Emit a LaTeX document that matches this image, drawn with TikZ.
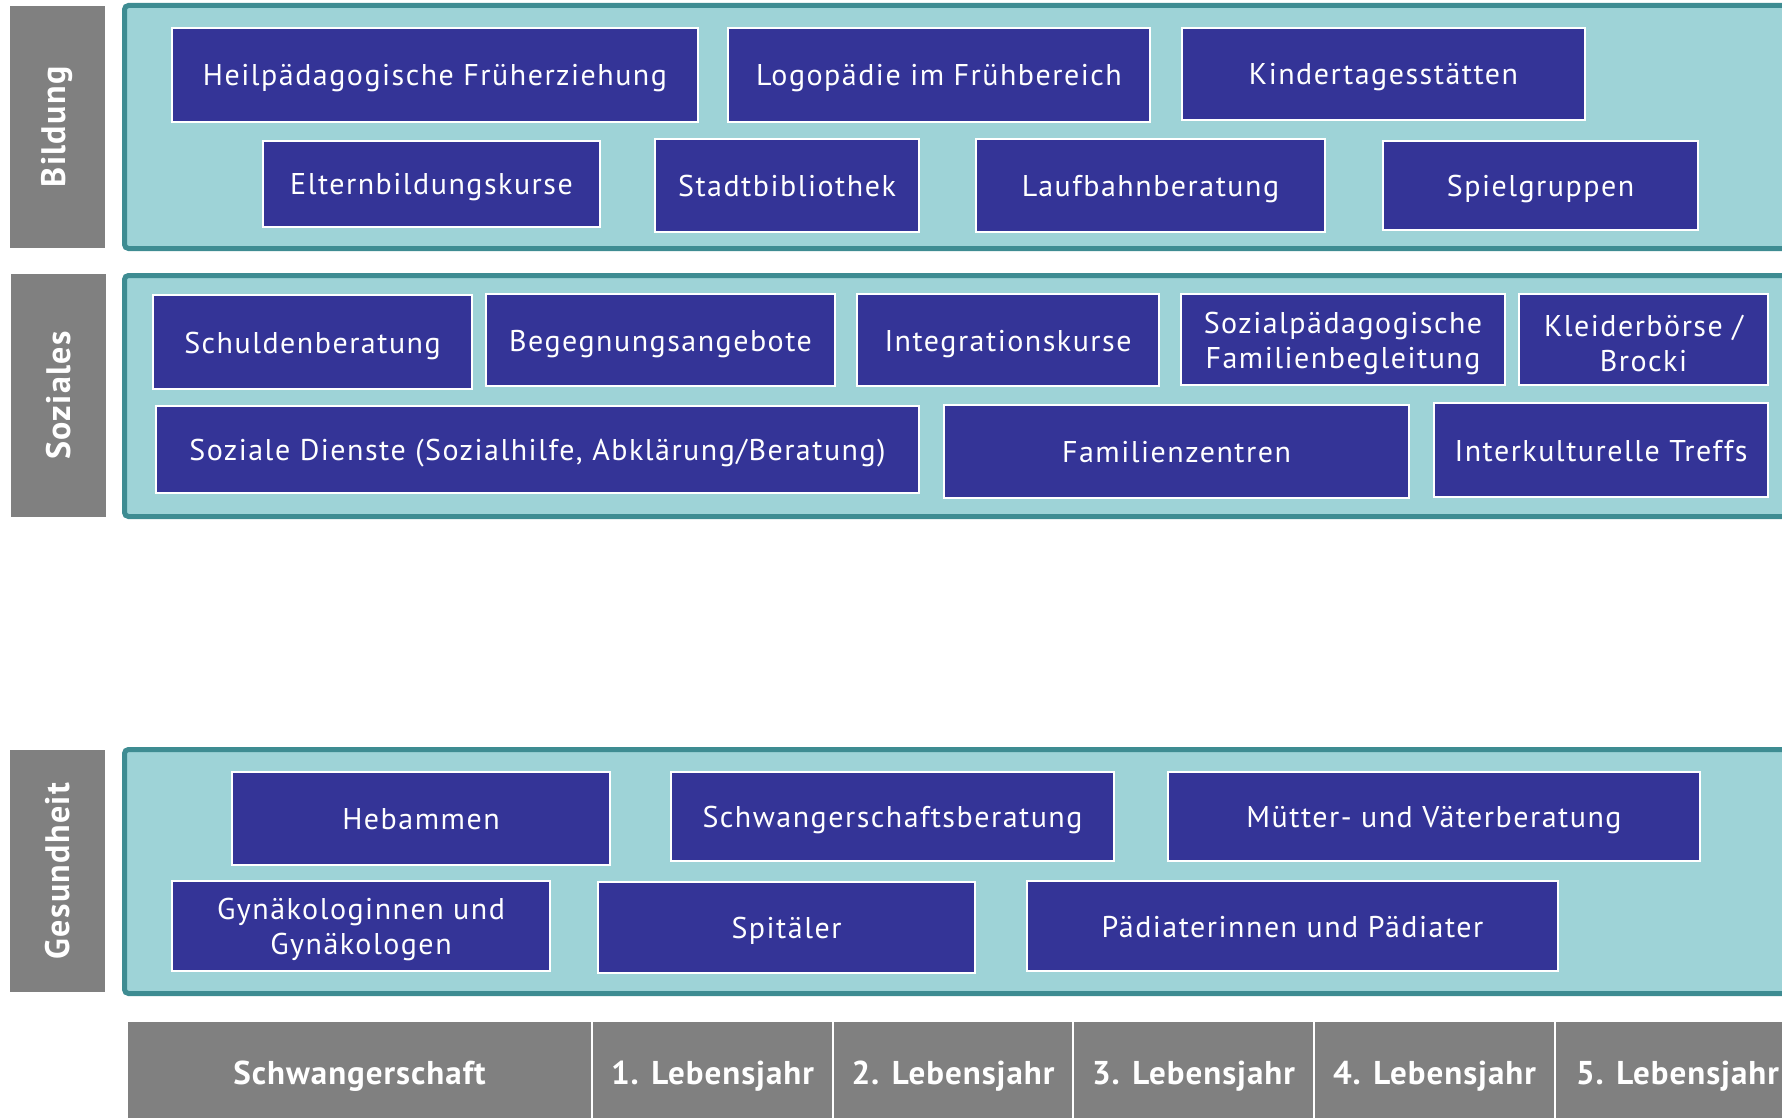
\documentclass[tikz,border=0pt]{standalone}
\usepackage{fontspec}
\setmainfont{PT Sans}
\newfontfamily\boxfont{PT Sans}[LetterSpace=5]
\newfontfamily\lblfont{PT Sans}[LetterSpace=4]
\newfontfamily\cellfont{PT Sans}[LetterSpace=3]
\definecolor{panelfill}{HTML}{9ED3D7}
\definecolor{panelline}{HTML}{3E8C92}
\definecolor{boxblue}{HTML}{343497}
\definecolor{greyc}{HTML}{808080}
\tikzset{
  panel/.style={draw=panelline, fill=panelfill, line width=5pt, rounded corners=4pt},
  bx/.style={draw=white, fill=boxblue, line width=2.5pt, inner sep=0pt},
  bxtext/.style={inner sep=0pt, text=white, text height=22pt, text depth=0pt,
    font=\boxfont\fontsize{30}{35}\selectfont},
  bxtwotext/.style={inner sep=0pt, align=center, text=white, yshift=-3.5pt,
    font=\boxfont\fontsize{30}{35}\selectfont},
  side/.style={fill=greyc, inner sep=0pt, text=white, font=\lblfont\bfseries\fontsize{34}{40}\selectfont},
  cell/.style={fill=greyc, draw=white, line width=2pt, inner sep=0pt},
  celltext/.style={text=white, font=\cellfont\bfseries\fontsize{33}{40}\selectfont, inner sep=0pt}
}
\newcommand\bx[6]{\node[bx, minimum width={#4-#2}, minimum height={#5-#3}] (#1) at ({(#2+#4)/2},{(#3+#5)/2}) {};
  \node[bxtext] (#1t) at (#1.center) {#6};}
\newcommand\bxx[6]{\node[bx, minimum width={#4-#2}, minimum height={#5-#3}] (#1) at ({(#2+#4)/2},{(#3+#5)/2}) {};
  \node[bxtwotext] (#1t) at (#1.center) {#6};}
\newcommand\sidelbl[6]{\node[side, minimum width={#4-#2}, minimum height={#5-#3}] (#1) at ({(#2+#4)/2},{(#3+#5)/2}) {\rotatebox{90}{#6}};}
\newcommand\cellbx[6]{\node[cell, minimum width={#4-#2}, minimum height={#5-#3}] (#1) at ({(#2+#4)/2},{(#3+#5)/2}) {};
  \node[celltext] (#1t) at ({(#2+#4)/2},1076) {#6};}
\begin{document}
\begin{tikzpicture}[x=1pt,y=-1pt]
\useasboundingbox (0,0) rectangle (1782,1118);
\clip (0,0) rectangle (1782,1118);
% panels
\draw[panel] (124.5,5.5) rectangle (1810,248.5);
\draw[panel] (124.5,275.5) rectangle (1810,516.5);
\draw[panel] (124.5,749.5) rectangle (1810,993.5);
% side labels
\sidelbl{sb}{10}{6}{105}{248}{Bildung}
\sidelbl{ss}{11}{274}{106}{517}{Soziales}
\sidelbl{sg}{10}{750}{105}{992}{Gesundheit}
% Bildung
\bx{b1}{172}{28}{698}{122}{Heilpädagogische Früherziehung}
\bx{b2}{728}{28}{1150}{122}{Logopädie im Frühbereich}
\bx{b3}{1182}{28}{1585}{120}{Kindertagesstätten}
\bx{b4}{263}{141}{600}{227}{Elternbildungskurse}
\bx{b5}{655}{139}{919}{232}{Stadtbibliothek}
\bx{b6}{976}{139}{1325}{232}{Laufbahnberatung}
\bx{b7}{1383}{141}{1698}{230}{Spielgruppen}
% Soziales
\bx{s1}{153}{295}{472}{389}{Schuldenberatung}
\bx{s2}{486}{294}{835}{386}{Begegnungsangebote}
\bx{s3}{857}{294}{1159}{386}{Integrationskurse}
\bxx{s4}{1181}{294}{1505}{385}{Sozialpädagogische\\Familienbegleitung}
\bxx{s5}{1519}{294}{1768}{385}{Kleiderbörse /\\Brocki}
\bx{s6}{156}{406}{919}{493}{Soziale Dienste (Sozialhilfe, Abklärung/Beratung)}
\bx{s7}{944}{405}{1409}{498}{Familienzentren}
\bx{s8}{1434}{403}{1768}{497}{Interkulturelle Treffs}
% Gesundheit
\bx{g1}{232}{772}{610}{865}{Hebammen}
\bx{g2}{671}{772}{1114}{861}{Schwangerschaftsberatung}
\bx{g3}{1168}{772}{1700}{861}{Mütter- und Väterberatung}
\bxx{g4}{172}{881}{550}{971}{Gynäkologinnen und\\Gynäkologen}
\bx{g5}{598}{882}{975}{973}{Spitäler}
\bx{g6}{1027}{881}{1558}{971}{Pädiaterinnen und Pädiater}
% time axis
\cellbx{c0}{127}{1021}{592}{1130}{Schwangerschaft}
\cellbx{c1}{592}{1021}{833}{1130}{1. Lebensjahr}
\cellbx{c2}{833}{1021}{1073}{1130}{2. Lebensjahr}
\cellbx{c3}{1073}{1021}{1314}{1130}{3. Lebensjahr}
\cellbx{c4}{1314}{1021}{1555}{1130}{4. Lebensjahr}
\cellbx{c5}{1555}{1021}{1800}{1130}{5. Lebensjahr}
\end{tikzpicture}
\end{document}
